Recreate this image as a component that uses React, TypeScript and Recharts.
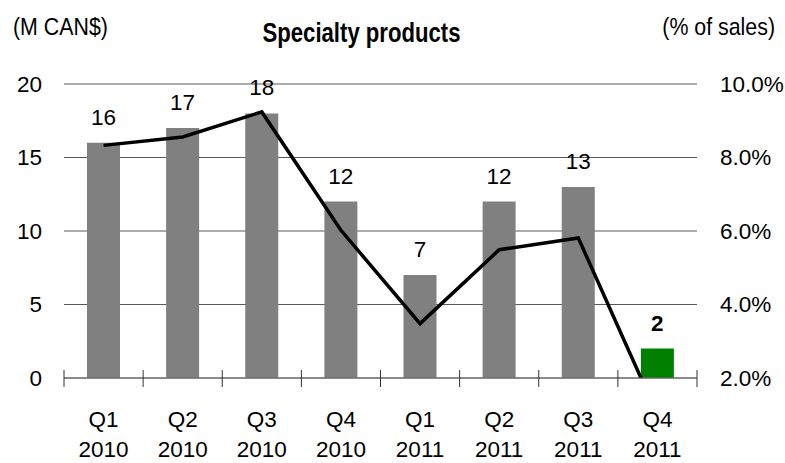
import React from "react";
import {
  ComposedChart,
  Bar,
  Line,
  XAxis,
  YAxis,
  CartesianGrid,
  LabelList,
  Cell,
} from "recharts";

const quarters = ["Q1", "Q2", "Q3", "Q4", "Q1", "Q2", "Q3", "Q4"];
const years = ["2010", "2010", "2010", "2010", "2011", "2011", "2011", "2011"];
// M CAN$
const sales = [16, 17, 18, 12, 7, 12, 13, 2];
// % of sales
const pctOfSales = [8.33, 8.56, 9.24, 6.02, 3.48, 5.49, 5.81, 1.0];
const leftTicks = [0, 5, 10, 15, 20];
const rightTicks = [2, 4, 6, 8, 10];
const latest = quarters.length - 1;

const data = quarters.map((q, i) => ({
  key: `${q} ${years[i]}`,
  sales: sales[i],
  pct: pctOfSales[i],
}));

const W = 785;
const H = 463;
const FONT = "'Liberation Sans', Arial, sans-serif";
const BAND_HALF = (697 - 64) / quarters.length / 2;

function QuarterTick(props: any) {
  const { x, y, payload, index } = props;
  const half = payload.offset || BAND_HALF;
  const [q, yr] = String(payload.value).split(" ");
  return (
    <g>
      <line x1={x - half} x2={x - half} y1={y - 8} y2={y + 9} stroke="#333" />
      {index === latest && (
        <line x1={x + half} x2={x + half} y1={y - 8} y2={y + 9} stroke="#333" />
      )}
      <text x={x} y={y + 48.5} textAnchor="middle" fontSize={22.5} fontFamily={FONT} fill="#000">
        {q}
      </text>
      <text x={x} y={y + 79} textAnchor="middle" fontSize={22.5} fontFamily={FONT} fill="#000">
        {yr}
      </text>
    </g>
  );
}

function BarValue(props: any) {
  const { x, y, width, value, index } = props;
  return (
    <text
      x={x + width / 2}
      y={y - 18}
      textAnchor="middle"
      fontSize={22.5}
      fontFamily={FONT}
      fontWeight={index === latest ? "bold" : "normal"}
      fill="#000"
    >
      {value}
    </text>
  );
}

// condensed look: regular face squeezed horizontally
function Squeezed({ x, y, size, sx, anchor, bold, children }: any) {
  return (
    <text
      transform={`translate(${x},${y}) scale(${sx},1)`}
      textAnchor={anchor}
      fontSize={size}
      fontWeight={bold ? "bold" : "normal"}
      fontFamily={FONT}
      fill="#000"
    >
      {children}
    </text>
  );
}

export default function App() {
  return (
    <div style={{ position: "absolute", left: 0, top: 0, width: W, height: H, background: "#fff" }}>
      <ComposedChart
        width={W}
        height={H}
        data={data}
        margin={{ top: 84, right: 0, bottom: 0, left: 0 }}
      >
        <CartesianGrid yAxisId="left" vertical={false} stroke="#595959" />
        <XAxis
          dataKey="key"
          height={85}
          interval={0}
          tickSize={0}
          tickMargin={0}
          tickLine={false}
          axisLine={{ stroke: "#6b6b6b" }}
          tick={<QuarterTick />}
        />
        <YAxis
          yAxisId="left"
          orientation="left"
          width={64}
          domain={[0, 20]}
          ticks={leftTicks}
          axisLine={false}
          tickLine={false}
          tickMargin={16}
          tick={{ fontSize: 22.5, fill: "#000", fontFamily: FONT }}
        />
        <YAxis
          yAxisId="right"
          orientation="right"
          width={88}
          domain={[2, 10]}
          ticks={rightTicks}
          allowDataOverflow
          axisLine={false}
          tickLine={false}
          tickMargin={17}
          tickFormatter={(v) => `${Number(v).toFixed(1)}%`}
          tick={{ fontSize: 22.5, fill: "#000", fontFamily: FONT }}
        />
        <Bar yAxisId="left" dataKey="sales" barSize={33} isAnimationActive={false}>
          {data.map((_, i) => (
            <Cell key={i} fill={i === latest ? "#008000" : "#808080"} />
          ))}
          <LabelList dataKey="sales" content={<BarValue />} />
        </Bar>
        <Line
          yAxisId="right"
          type="linear"
          dataKey="pct"
          stroke="#000"
          strokeWidth={3.5}
          dot={false}
          activeDot={false}
          isAnimationActive={false}
        />
      </ComposedChart>
      <svg
        width={W}
        height={60}
        style={{ position: "absolute", left: 0, top: 0, pointerEvents: "none" }}
      >
        <Squeezed x={13} y={35} size={24} sx={0.89} anchor="start">
          (M CAN$)
        </Squeezed>
        <Squeezed x={361.5} y={41.5} size={27} sx={0.82} anchor="middle" bold>
          Specialty products
        </Squeezed>
        <Squeezed x={775} y={35} size={24} sx={0.89} anchor="end">
          (% of sales)
        </Squeezed>
      </svg>
    </div>
  );
}
